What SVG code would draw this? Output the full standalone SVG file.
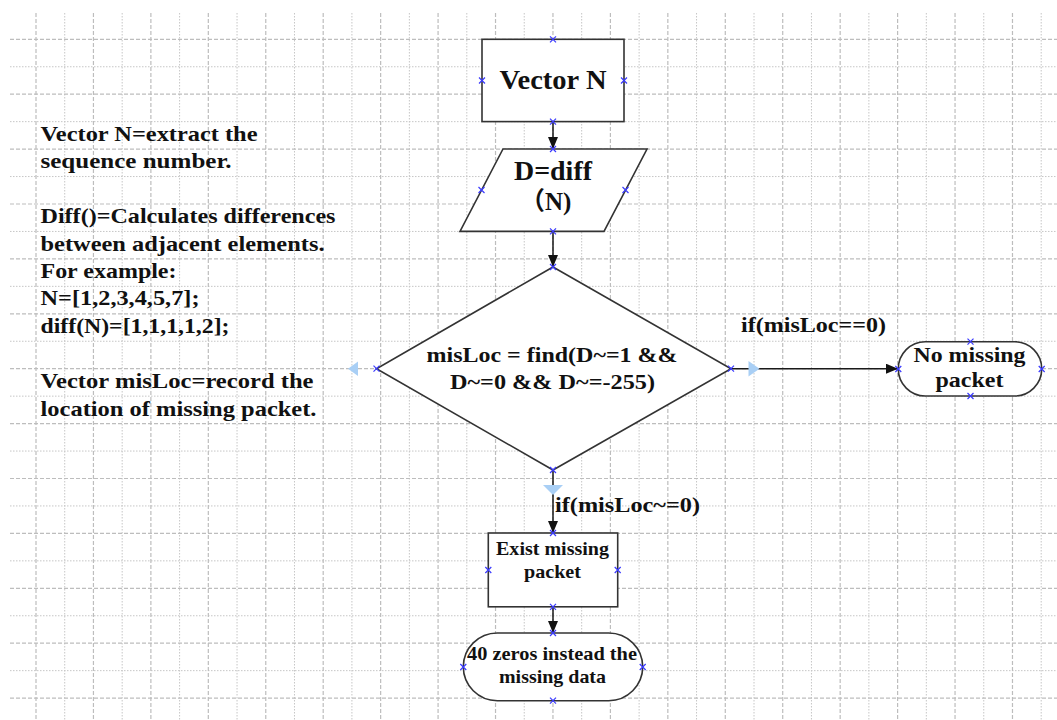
<svg xmlns="http://www.w3.org/2000/svg" xmlns:xlink="http://www.w3.org/1999/xlink" width="1057" height="720" viewBox="0 0 1057 720">
  <style>
    .grid-major { fill: none; stroke: #bdbdbd; stroke-width: 1.2; stroke-dasharray: 4 2; }
    .grid-minor { fill: none; stroke: #c6c6c6; stroke-width: 1; stroke-dasharray: 1.5 1.5; }
    .shape { fill: #ffffff; stroke: #333333; stroke-width: 1.6; }
    .edge { fill: none; stroke: #1a1a1a; stroke-width: 1.5; }
    .txt { font-family: "Liberation Serif", "Times New Roman", "Noto Sans CJK SC", serif; font-weight: bold; fill: #111111; }
    .c { text-anchor: middle; }
    .handle { fill: #a9cff5; }
    .pin { fill: none; stroke: #3a3aff; stroke-width: 1.2; }
  </style>
  <defs>
    <marker id="arrow" markerUnits="userSpaceOnUse" markerWidth="14" markerHeight="12" refX="12" refY="5" orient="auto">
      <path d="M0,0 L12,5 L0,10 Z" fill="#111111"/>
    </marker>
    <path id="xm" class="pin" d="M-3,-3 L3,3 M-3,3 L3,-3"/>
  </defs>

  <rect width="1057" height="720" fill="#ffffff"/>

  <!-- background grid -->
  <g id="grid">
    <path class="grid-minor" d="M64.72,13V720 M122.16,13V720 M179.6,13V720 M237.04,13V720 M294.48,13V720 M351.92,13V720 M409.36,13V720 M466.8,13V720 M524.24,13V720 M581.68,13V720 M639.12,13V720 M696.56,13V720 M754,13V720 M811.44,13V720 M868.88,13V720 M926.32,13V720 M983.76,13V720 M1041.2,13V720"/>
    <path class="grid-minor" d="M10,66.75H1057 M10,121.65H1057 M10,176.55H1057 M10,231.45H1057 M10,286.35H1057 M10,341.25H1057 M10,396.15H1057 M10,451.05H1057 M10,505.95H1057 M10,560.85H1057 M10,615.75H1057 M10,670.65H1057"/>
    <path class="grid-major" d="M36,13V720 M93.44,13V720 M150.88,13V720 M208.32,13V720 M265.76,13V720 M323.2,13V720 M380.64,13V720 M438.08,13V720 M495.52,13V720 M552.96,13V720 M610.4,13V720 M667.84,13V720 M725.28,13V720 M782.72,13V720 M840.16,13V720 M897.6,13V720 M955.04,13V720 M1012.48,13V720"/>
    <path class="grid-major" d="M10,39.3H1057 M10,94.2H1057 M10,149.1H1057 M10,204H1057 M10,258.9H1057 M10,313.8H1057 M10,368.7H1057 M10,423.6H1057 M10,478.5H1057 M10,533.4H1057 M10,588.3H1057 M10,643.2H1057 M10,698.1H1057"/>
  </g>

  <!-- side notes -->
  <g id="notes" class="txt" font-size="22">
    <text x="40.5" y="140.5" textLength="217" lengthAdjust="spacingAndGlyphs">Vector N=extract the</text>
    <text x="40.5" y="168" textLength="191" lengthAdjust="spacingAndGlyphs">sequence number.</text>
    <text x="40.5" y="223" textLength="295" lengthAdjust="spacingAndGlyphs">Diff()=Calculates differences</text>
    <text x="40.5" y="250.5" textLength="284" lengthAdjust="spacingAndGlyphs">between adjacent elements.</text>
    <text x="40.5" y="278" textLength="136" lengthAdjust="spacingAndGlyphs">For example:</text>
    <text x="40.5" y="305.3" textLength="159" lengthAdjust="spacingAndGlyphs">N=[1,2,3,4,5,7];</text>
    <text x="40.5" y="332.8" textLength="189" lengthAdjust="spacingAndGlyphs">diff(N)=[1,1,1,1,2];</text>
    <text x="40.5" y="388" textLength="273" lengthAdjust="spacingAndGlyphs">Vector misLoc=record the</text>
    <text x="40.5" y="415.5" textLength="276" lengthAdjust="spacingAndGlyphs">location of missing packet.</text>
  </g>

  <!-- connectors -->
  <g id="connectors">
    <path class="edge" d="M553,121.6 V149" marker-end="url(#arrow)"/>
    <path class="edge" d="M553,231.4 V267" marker-end="url(#arrow)"/>
    <path class="edge" d="M731,368.7 H898" marker-end="url(#arrow)"/>
    <path class="edge" d="M553,470 V533" marker-end="url(#arrow)"/>
    <path class="edge" d="M553,606.8 V633" marker-end="url(#arrow)"/>
    <text class="txt" x="741" y="332" font-size="22" textLength="145" lengthAdjust="spacingAndGlyphs">if(misLoc==0)</text>
    <text class="txt" x="555" y="511.5" font-size="22" textLength="145" lengthAdjust="spacingAndGlyphs">if(misLoc~=0)</text>
  </g>

  <!-- start: Vector N -->
  <g id="node-vector">
    <rect class="shape" x="482" y="39.3" width="142" height="82.3"/>
    <text class="txt c" x="553" y="89.3" font-size="27" textLength="107" lengthAdjust="spacingAndGlyphs">Vector N</text>
    <use xlink:href="#xm" x="553" y="39.3"/>
    <use xlink:href="#xm" x="482" y="80.5"/>
    <use xlink:href="#xm" x="624" y="80.5"/>
    <use xlink:href="#xm" x="553" y="121.6"/>
  </g>

  <!-- D = diff(N) -->
  <g id="node-diff">
    <polygon class="shape" points="503,149 647,149 604,231.4 460,231.4"/>
    <text class="txt c" x="553" y="180" font-size="26.5" textLength="78" lengthAdjust="spacingAndGlyphs">D=diff</text>
    <text class="txt" x="520" y="210" font-size="25">（N)</text>
    <use xlink:href="#xm" x="553" y="149"/>
    <use xlink:href="#xm" x="481.5" y="190"/>
    <use xlink:href="#xm" x="625.5" y="190"/>
    <use xlink:href="#xm" x="553" y="231.4"/>
  </g>

  <!-- decision: find missing locations -->
  <g id="node-find">
    <polygon class="shape" points="553,267 731,368.7 553,470 376.5,368.7"/>
    <text class="txt c" x="552" y="362" font-size="22" textLength="251" lengthAdjust="spacingAndGlyphs">misLoc = find(D~=1 &amp;&amp;</text>
    <text class="txt c" x="552.5" y="388.5" font-size="22" textLength="205" lengthAdjust="spacingAndGlyphs">D~=0 &amp;&amp; D~=-255)</text>
    <polygon class="handle" points="348,368.7 358,361.5 358,376"/>
    <polygon class="handle" points="759.5,368.7 748.5,361 748.5,376.5"/>
    <polygon class="handle" points="553,495 543,485 563,485"/>
    <use xlink:href="#xm" x="553" y="267"/>
    <use xlink:href="#xm" x="376.5" y="368.7"/>
    <use xlink:href="#xm" x="731" y="368.7"/>
    <use xlink:href="#xm" x="553" y="470"/>
  </g>

  <!-- end: no missing packet -->
  <g id="node-none">
    <rect class="shape" x="898.3" y="341.7" width="143.4" height="54.3" rx="27" ry="27"/>
    <text class="txt c" x="969.5" y="362" font-size="22" textLength="112" lengthAdjust="spacingAndGlyphs">No missing</text>
    <text class="txt c" x="969.5" y="386.5" font-size="22" textLength="68" lengthAdjust="spacingAndGlyphs">packet</text>
    <use xlink:href="#xm" x="970.5" y="341.7"/>
    <use xlink:href="#xm" x="898.3" y="369"/>
    <use xlink:href="#xm" x="1041.7" y="369"/>
    <use xlink:href="#xm" x="970.5" y="396"/>
  </g>

  <!-- process: exist missing packet -->
  <g id="node-exist">
    <rect class="shape" x="488.3" y="533" width="129.4" height="73.8"/>
    <text class="txt c" x="552.5" y="555" font-size="19.5" textLength="113" lengthAdjust="spacingAndGlyphs">Exist missing</text>
    <text class="txt c" x="552.5" y="577.5" font-size="19.5" textLength="57" lengthAdjust="spacingAndGlyphs">packet</text>
    <use xlink:href="#xm" x="553" y="533"/>
    <use xlink:href="#xm" x="488.3" y="570"/>
    <use xlink:href="#xm" x="617.7" y="570"/>
    <use xlink:href="#xm" x="553" y="606.8"/>
  </g>

  <!-- end: zero fill -->
  <g id="node-zeros">
    <rect class="shape" x="463.3" y="633" width="179.4" height="67.7" rx="34" ry="34"/>
    <text class="txt c" x="552" y="660" font-size="19.5" textLength="170" lengthAdjust="spacingAndGlyphs">40 zeros instead the</text>
    <text class="txt c" x="552.5" y="683" font-size="19.5" textLength="107" lengthAdjust="spacingAndGlyphs">missing data</text>
    <use xlink:href="#xm" x="553" y="633"/>
    <use xlink:href="#xm" x="463.3" y="667"/>
    <use xlink:href="#xm" x="642.7" y="667"/>
    <use xlink:href="#xm" x="553" y="700.7"/>
  </g>
</svg>
